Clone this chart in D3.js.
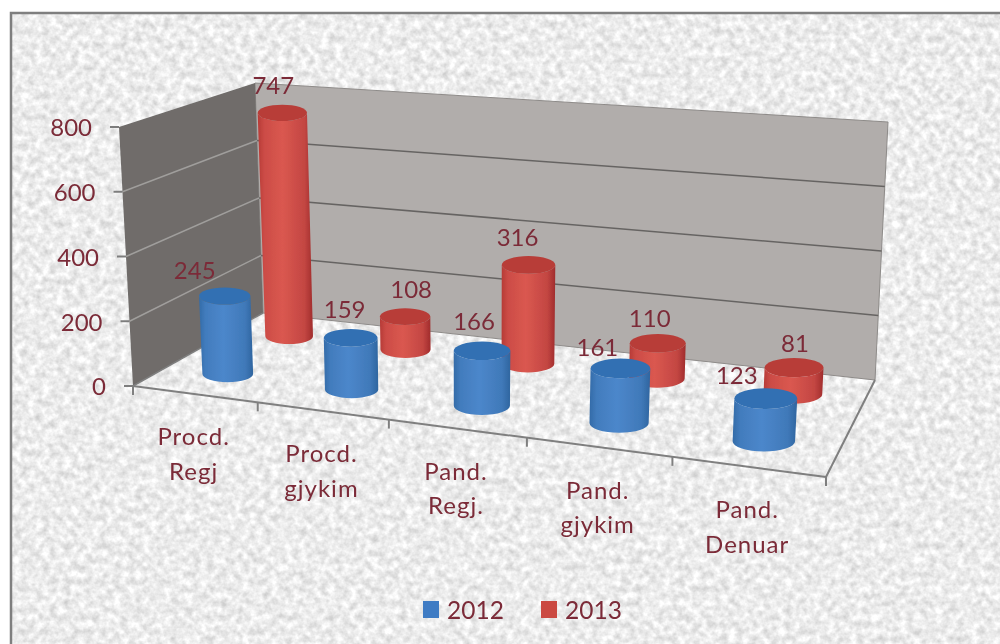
<!DOCTYPE html>
<html><head><meta charset="utf-8">
<script src="https://cdn.jsdelivr.net/npm/d3@7"></script>
<style>html,body{margin:0;padding:0;background:#fff}svg{display:block}text{font-family:Lato,"Open Sans",sans-serif}</style>
</head><body><div id="chart"></div>
<script>
const categories = [["Procd.","Regj"],["Procd.","gjykim"],["Pand.","Regj."],["Pand.","gjykim"],["Pand.","Denuar"]];
const seriesNames = ["2012","2013"];
const values2012 = [245,159,166,161,123];
const values2013 = [747,108,316,110,81];
const yTicks = [0,200,400,600,800];

const W=1000,H=644;
const inkColor="#7b2c38";
const svg=d3.select("#chart").append("svg").attr("width",W).attr("height",H);
const defs=svg.append("defs");

// paper texture
const tex=defs.append("filter").attr("id","paper").attr("x",0).attr("y",0).attr("width","100%").attr("height","100%")
  .attr("color-interpolation-filters","sRGB");
tex.append("feTurbulence").attr("type","fractalNoise").attr("baseFrequency","0.14").attr("numOctaves",3).attr("seed",7);
tex.append("feColorMatrix").attr("type","matrix").attr("values","0.3 0 0 0 0.775  0.3 0 0 0 0.775  0.3 0 0 0 0.775  0 0 0 0 1");
const soft=defs.append("filter").attr("id","soft");
soft.append("feGaussianBlur").attr("stdDeviation",0.7);
const softText=defs.append("filter").attr("id","softText");
softText.append("feGaussianBlur").attr("stdDeviation",0.35);

function cylGrad(id,edgeL,mid,edgeR){
  const g=defs.append("linearGradient").attr("id",id);
  [[0,edgeL],[.12,d3.interpolateRgb(edgeL,mid)(.6)],[.45,mid],[.85,d3.interpolateRgb(edgeR,mid)(.6)],[1,edgeR]]
    .forEach(([o,c])=>g.append("stop").attr("offset",o).attr("stop-color",c));
}
cylGrad("g2012","#336ba8","#4c87cb","#2f659f");
cylGrad("g2013","#b63a36","#da5850","#a02c2c");
const topFill={ "2012":"#3270b3","2013":"#b83d39" };

// scales in the chart's 3D space
const uScale=d3.scaleLinear().domain([0,categories.length]).range([0,1]);
const yScale=d3.scaleLinear().domain([0,800]).range([0,1]);
const persp=u=>u*0.878/(1+u*(0.878-1));
const xInterp=(a,b,t)=>a+(b-a)*t;
// picture-space corners of the plot box: [x,y] at bottom and top, front and back
const box={
  fbl:[133,386],fbr:[826,477],bbl:[263,313],bbr:[875,380],
  ftl:[119,127],ftr:[843,187],btl:[255,83],btr:[888,122]
};
function P(u,v,w){
  const t=persp(u);
  const q=(a,b,c,d,i)=>xInterp(xInterp(a[i],b[i],t),xInterp(c[i],d[i],t),v);
  const bx=q(box.fbl,box.fbr,box.bbl,box.bbr,0),by=q(box.fbl,box.fbr,box.bbl,box.bbr,1);
  const tx=q(box.ftl,box.ftr,box.btl,box.btr,0),ty=q(box.ftl,box.ftr,box.btl,box.btr,1);
  return [xInterp(bx,tx,w),xInterp(by,ty,w)];
}
const poly=pts=>"M"+pts.map(p=>p.join(",")).join("L")+"Z";
const line=(a,b)=>`M${a[0]},${a[1]}L${b[0]},${b[1]}`;

// page
svg.append("rect").attr("width",W).attr("height",H).attr("fill","#fff");
svg.append("rect").attr("x",10).attr("y",12).attr("width",W-10).attr("height",H-12).attr("filter","url(#paper)");
svg.append("path").attr("d",`M11,${H}L11,13L${W},13`).attr("fill","none").attr("stroke","#7f7f7f").attr("stroke-width",2.5);

const chart=svg.append("g").attr("filter","url(#soft)");
// walls
chart.append("path").attr("d",poly([P(0,1,0),P(1,1,0),P(1,1,1),P(0,1,1)])).attr("fill","#b1adab").attr("stroke","#8e8b89");
chart.append("path").attr("d",poly([P(0,0,0),P(0,1,0),P(0,1,1),P(0,0,1)])).attr("fill","#6f6c6a");
yTicks.forEach(d=>{
  const w=yScale(d);
  if(d>0&&d<800) chart.append("path").attr("d",line(P(0,1,w),P(1,1,w))).attr("stroke","#666462").attr("stroke-width",1.5).attr("fill","none");
  if(d>0&&d<800) chart.append("path").attr("d",line(P(0,0,w),P(0,1,w))).attr("stroke","#a09e9c").attr("stroke-width",1.5).attr("fill","none");
  const a=P(0,0,w);
  chart.append("path").attr("d",`M${a[0]-9},${a[1]}L${a[0]},${a[1]}`).attr("stroke","#7d7d7d").attr("stroke-width",2);
});
// floor edges and ticks
const edge="#7f7f7f";
chart.append("path").attr("d",line(P(0,0,0),P(1,0,0))).attr("stroke",edge).attr("stroke-width",2);
chart.append("path").attr("d",line(P(1,0,0),P(1,1,0))).attr("stroke",edge).attr("stroke-width",2);
chart.append("path").attr("d",line(P(0,0,0),P(0,1,0))).attr("stroke",edge).attr("stroke-width",1.5);
d3.range(categories.length+1).forEach(i=>{
  const a=P(uScale(i),0,0);
  chart.append("path").attr("d",`M${a[0]},${a[1]}L${a[0]},${a[1]+9}`).attr("stroke",edge).attr("stroke-width",2);
});

// cylinders
const depth={ "2012":0.27, "2013":0.77 };
const barHalf=0.042;
const rows=[];
seriesNames.forEach((s,si)=>{
  (si?values2013:values2012).forEach((v,i)=>rows.push({s,i,v}));
});
rows.sort((a,b)=>depth[b.s]-depth[a.s]);
rows.forEach(r=>{
  const uc=uScale(r.i+.5), vd=depth[r.s], w=yScale(r.v);
  const rad=(ww)=>{const a=P(uc-barHalf,vd,ww),b=P(uc+barHalf,vd,ww);return Math.abs(b[0]-a[0])/2;};
  const b=P(uc,vd,0),t=P(uc,vd,w),rb=rad(0),rt=rad(w),ryb=rb*0.33,ryt=rt*0.33;
  chart.append("path")
    .attr("d",`M${t[0]-rt},${t[1]}L${b[0]-rb},${b[1]}A${rb},${ryb} 0 0 0 ${b[0]+rb},${b[1]}L${t[0]+rt},${t[1]}A${rt},${ryt} 0 0 1 ${t[0]-rt},${t[1]}Z`)
    .attr("fill",`url(#g${r.s})`);
  chart.append("ellipse").attr("cx",t[0]).attr("cy",t[1]).attr("rx",rt).attr("ry",ryt).attr("fill",topFill[r.s]);
  r.tc=t;
});

const labels=svg.append("g").attr("filter","url(#softText)");
// data labels (nudged as in the reference)
const labelNudge2012=[[-30,-25],[-6,-28],[-8,-29],[-23,-21],[-29,-23]];
const labelNudge2013=[[-9,-27],[6,-27],[-11,-27],[-8,-25],[1,-24]];
const fs=24;
rows.forEach(r=>{
  const n=(r.s==="2012"?labelNudge2012:labelNudge2013)[r.i];
  labels.append("text").attr("x",r.tc[0]+n[0]).attr("y",r.tc[1]+n[1]).attr("dy","0.35em")
    .attr("text-anchor","middle").attr("font-size",fs).attr("fill",inkColor).text(r.v);
});
// y axis labels
yTicks.forEach(d=>{
  const a=P(0,0,yScale(d));
  labels.append("text").attr("x",a[0]-27).attr("y",a[1]+1).attr("dy","0.35em").attr("text-anchor","end")
    .attr("font-size",fs).attr("fill",inkColor).text(d);
});
// category labels
categories.forEach((c,i)=>{
  const a=P(uScale(i+.5),0,0);
  c.forEach((ln,k)=>{
    labels.append("text").attr("x",a[0]-1).attr("y",a[1]+43+k*34.5).attr("dy","0.35em").attr("text-anchor","middle")
      .attr("font-size",fs).attr("letter-spacing",1).attr("fill",inkColor).text(ln);
  });
});
// legend
const legendX=d3.scalePoint().domain(seriesNames).range([423,541]);
const legendColor=d3.scaleOrdinal().domain(seriesNames).range(["#3f7cc4","#cb4a42"]);
seriesNames.forEach(s=>{
  svg.append("rect").attr("x",legendX(s)).attr("y",601).attr("width",16).attr("height",17).attr("fill",legendColor(s));
  labels.append("text").attr("x",legendX(s)+24).attr("y",610).attr("dy","0.35em").attr("font-size",24.5).attr("fill",inkColor).text(s);
});
</script></body></html>
